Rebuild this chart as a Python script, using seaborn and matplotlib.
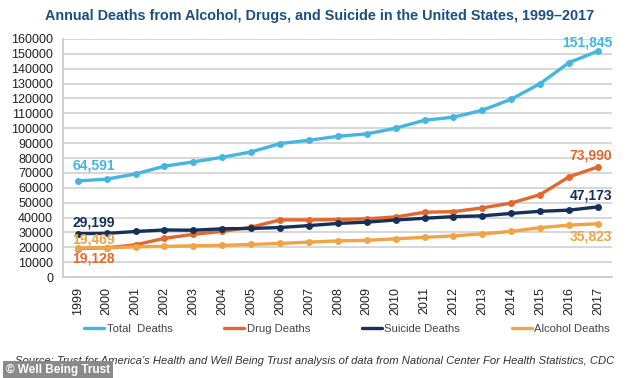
import matplotlib
matplotlib.use("Agg")
import matplotlib.pyplot as plt
import seaborn as sns
import pandas as pd

years = list(range(1999, 2018))
total_deaths = [64591, 65800, 69300, 74500, 77400, 80500, 84100, 89700, 91900, 94600,
                96200, 100000, 105400, 107400, 112100, 119500, 130000, 144100, 151845]
drug_deaths = [19128, 19698, 21683, 26040, 28723, 30711, 33541, 38396, 38371, 38649,
               39147, 40393, 43544, 43982, 46471, 49714, 55403, 67362, 73990]
suicide_deaths = [29199, 29350, 30622, 31655, 31484, 32439, 32637, 33300, 34598, 36035,
                  36909, 38364, 39518, 40600, 41149, 42773, 44193, 44965, 47173]
alcohol_deaths = [19469, 19600, 20300, 20600, 21000, 21300, 21900, 22600, 23500, 24300,
                  24700, 25700, 26700, 27700, 29000, 30700, 33200, 34900, 35823]
series_names = ["Total  Deaths", "Drug Deaths", "Suicide Deaths", "Alcohol Deaths"]
y_ticks = list(range(0, 160001, 10000))

colors = ["#44b6df", "#e2692e", "#15315a", "#f0a444"]

sns.set_style("white")
plt.rcParams["font.family"] = ["Liberation Sans", "DejaVu Sans"]

rows = []
for name, vals in zip(series_names, [total_deaths, drug_deaths, suicide_deaths, alcohol_deaths]):
    for i, (yr, v) in enumerate(zip(years, vals)):
        rows.append({"idx": i, "year": yr, "deaths": v, "series": name})
df = pd.DataFrame(rows)

fig = plt.figure(figsize=(6.34, 3.78), dpi=100)
ax = fig.add_axes([0.099, 0.267, 0.866, 0.63])

sns.lineplot(data=df, x="idx", y="deaths", hue="series", hue_order=series_names,
             palette=colors, marker="o", markersize=5, markeredgewidth=0,
             linewidth=2.4, ax=ax, legend=True)

ax.set_xlim(-0.52, 18.48)
ax.set_ylim(0, 160000)
ax.set_yticks(y_ticks)
ax.set_yticklabels([str(v) for v in y_ticks], fontsize=9, color="#222222")
ax.set_xticks(range(len(years)))
ax.set_xticklabels([str(y) for y in years], rotation=90, fontsize=9, color="#222222")
ax.tick_params(axis="x", length=4, color="#bbbbbb", width=1, pad=3)
ax.tick_params(axis="y", length=0, pad=7)
ax.set_xlabel("")
ax.set_ylabel("")
ax.yaxis.grid(True, color="#d4d4d4", linewidth=1.3)
ax.set_axisbelow(True)
for s in ["top", "right"]:
    ax.spines[s].set_visible(False)
for s in ["left", "bottom"]:
    ax.spines[s].set_color("#cccccc")
    ax.spines[s].set_linewidth(1.3)

# annotations
def ann(x, y, text, color, ha, dy):
    ax.annotate(text, xy=(x, y), xytext=(0, dy), textcoords="offset points",
                ha=ha, va="center", color=color, fontsize=10, fontweight="bold",
                annotation_clip=False)

ann(-0.2, total_deaths[0], "64,591", colors[0], "left", 11)
ann(18.5, total_deaths[-1], "151,845", colors[0], "right", 6)
ann(18.5, drug_deaths[-1], "73,990", colors[1], "right", 8)
ann(18.5, suicide_deaths[-1], "47,173", colors[2], "right", 8)
ann(18.5, alcohol_deaths[-1], "35,823", colors[3], "right", -9)
ann(-0.2, suicide_deaths[0], "29,199", colors[2], "left", 8)
ann(-0.2, alcohol_deaths[0], "19,469", colors[3], "left", 6)
ann(-0.2, drug_deaths[0], "19,128", colors[1], "left", -7)

leg = ax.legend(loc="center", bbox_to_anchor=(0.518, -0.218), ncol=4, frameon=False,
                fontsize=8.1, handlelength=1.8, handletextpad=0.2, columnspacing=4.6)
for t in leg.get_texts():
    t.set_color("#444444")
for l in leg.get_lines():
    l.set_linewidth(2.4)
    l.set_marker("")

fig.text(0.504, 0.958, "Annual Deaths from Alcohol, Drugs, and Suicide in the United States, 1999\u20132017",
         ha="center", va="center", fontsize=10.4, fontweight="bold", color="#1c4f86")

fig.text(0.024, 0.046, "Source: Trust for America\u2019s Health and Well Being Trust analysis of data from National Center For Health Statistics, CDC",
         ha="left", va="center", fontsize=8.1, style="italic", color="#333333")

fig.text(0.01, 0.02, "\u00a9 Well Being Trust", ha="left", va="center", fontsize=8.5,
         fontweight="bold", color="white",
         bbox=dict(boxstyle="square,pad=0.25", facecolor="#8a8a8a", edgecolor="none"))

fig.savefig("out.png", dpi=100)
